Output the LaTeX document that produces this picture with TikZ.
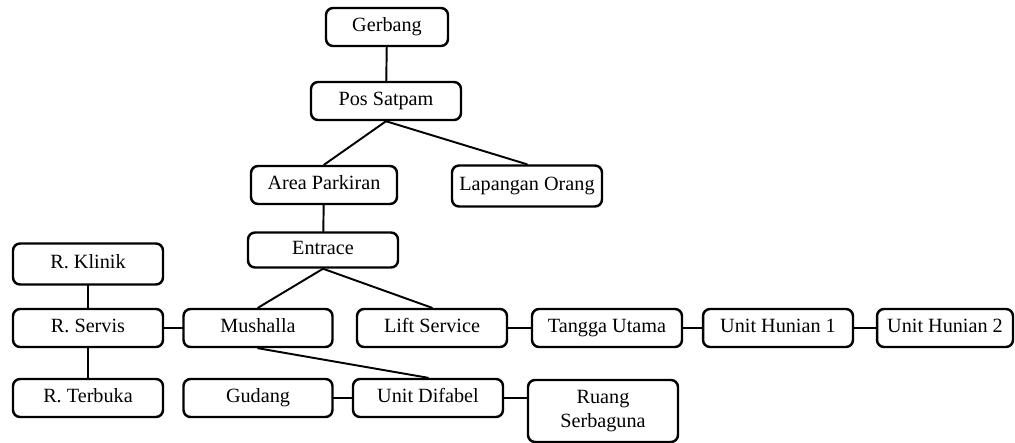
\documentclass[tikz,border=0pt]{standalone}
\usepackage{fontspec}
\setmainfont{Liberation Serif}
\usepackage{tikz}
\usetikzlibrary{calc}
\tikzstyle{every node}=[font=\fontsize{11.5}{14}\selectfont]
\tikzset{kotak/.style={draw,rounded corners=4pt,line width=1.4pt,minimum width=3cm,minimum height=0.76cm,inner sep=1pt,align=center},
         ruang/.style={kotak,text height=1.6ex,text depth=0.45ex},
         hub/.style={line width=1.1pt}}

\begin{document}
\begin{tikzpicture}[line cap=round,line join=round,x=0.02cm,y=-0.02cm]
                    \useasboundingbox (0,0) rectangle (1015,443);

                    % alur masuk
                    \node[ruang,minimum width=2.44cm] (gerbang) at (387,27) {Gerbang};
                    \node[ruang] (satpam) at (386,101) {Pos Satpam};
                    \node[ruang,minimum width=2.92cm] (parkir) at (324,185) {Area Parkiran};
                    \node[ruang,minimum height=0.82cm] (lapangan) at (527,186) {Lapangan Orang};
                    \node[ruang,minimum height=0.7cm] (entrace) at (323,250) {Entrace};

                    % kolom kiri
                    \node[ruang,minimum height=0.82cm] (klinik) at (88,264) {R. Klinik};
                    \node[ruang] (servis) at (88,328) {R. Servis};
                    \node[ruang] (terbuka) at (88,398) {R. Terbuka};

                    % baris tengah
                    \node[ruang,minimum width=2.98cm] (mushalla) at (258,328) {Mushalla};
                    \node[ruang] (lift) at (432,328) {Lift Service};
                    \node[ruang] (tangga) at (607,328) {Tangga Utama};
                    \node[ruang] (hunian1) at (778,328) {Unit Hunian 1};
                    \node[ruang,minimum width=2.72cm] (hunian2) at (945,328) {Unit Hunian 2};

                    % baris bawah
                    \node[ruang,minimum width=2.98cm] (gudang) at (258,398) {Gudang};
                    \node[ruang] (difabel) at (428,398) {Unit Difabel};
                    \node[kotak,minimum height=1.24cm] (serbaguna) at (603,411) {Ruang\\Serbaguna};

                    \draw[hub] (gerbang) -- (satpam);
                    \draw[hub] (satpam.south) -- (parkir.north);
                    \draw[hub] (satpam.south) -- (lapangan.north);
                    \draw[hub] (parkir) -- (entrace);
                    \draw[hub] (entrace.south) -- (mushalla.north);
                    \draw[hub] (entrace.south) -- (lift.north);
                    \draw[hub] (klinik) -- (servis);
                    \draw[hub] (servis) -- (terbuka);
                    \draw[hub] (servis) -- (mushalla);
                    \draw[hub] (mushalla.south) -- (difabel.north);
                    \draw[hub] (lift) -- (tangga);
                    \draw[hub] (tangga) -- (hunian1);
                    \draw[hub] (hunian1) -- (hunian2);
                    \draw[hub] (gudang) -- (difabel);
                    \draw[hub] (difabel.east) -- (difabel.east -| serbaguna.west);
                    \end{tikzpicture}
\end{document}
